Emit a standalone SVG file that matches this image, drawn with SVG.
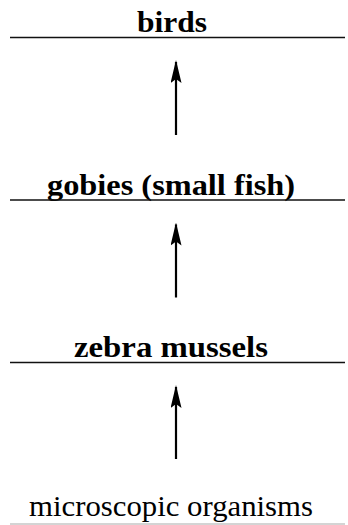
<svg xmlns="http://www.w3.org/2000/svg" width="348" height="525" viewBox="0 0 348 525">
<style>
.lbl{font-family:"Liberation Serif","Times New Roman",serif;font-size:29px;fill:#000;text-anchor:middle}
.b{font-weight:bold}
.rule{stroke:#111;stroke-width:1.4}
.conn{stroke:#000;stroke-width:2.2;fill:none;marker-end:url(#ah)}
</style>
<defs>
<marker id="ah" viewBox="0 0 23 11" refX="21" refY="5.5" markerWidth="23" markerHeight="11" markerUnits="userSpaceOnUse" orient="auto">
<path d="M0,0 L23,5.5 L0,11 L4,5.5 Z" fill="#000"/>
</marker>
</defs>
<rect width="348" height="525" fill="#fff"/>
<g id="birds">
<text class="lbl b" x="172" y="32" textLength="70" lengthAdjust="spacingAndGlyphs">birds</text>
<line class="rule" x1="10" y1="37.5" x2="345" y2="37.5"/>
</g>
<g id="gobies">
<text class="lbl b" x="171" y="194.5" textLength="248" lengthAdjust="spacingAndGlyphs">gobies (small fish)</text>
<line class="rule" x1="10" y1="200" x2="345" y2="200"/>
</g>
<g id="zebra">
<text class="lbl b" x="171" y="357" textLength="194" lengthAdjust="spacingAndGlyphs">zebra mussels</text>
<line class="rule" x1="10" y1="362.5" x2="345" y2="362.5"/>
</g>
<g id="micro">
<text class="lbl" x="171" y="516" textLength="284" lengthAdjust="spacingAndGlyphs">microscopic organisms</text>
<line x1="10" y1="524" x2="345" y2="524" stroke="#aaa" stroke-width="1.2"/>
</g>
<g id="connectors">
<line class="conn" x1="176" y1="135" x2="176" y2="62"/>
<line class="conn" x1="176" y1="297.5" x2="176" y2="224.5"/>
<line class="conn" x1="176" y1="459" x2="176" y2="387"/>
</g>
</svg>
